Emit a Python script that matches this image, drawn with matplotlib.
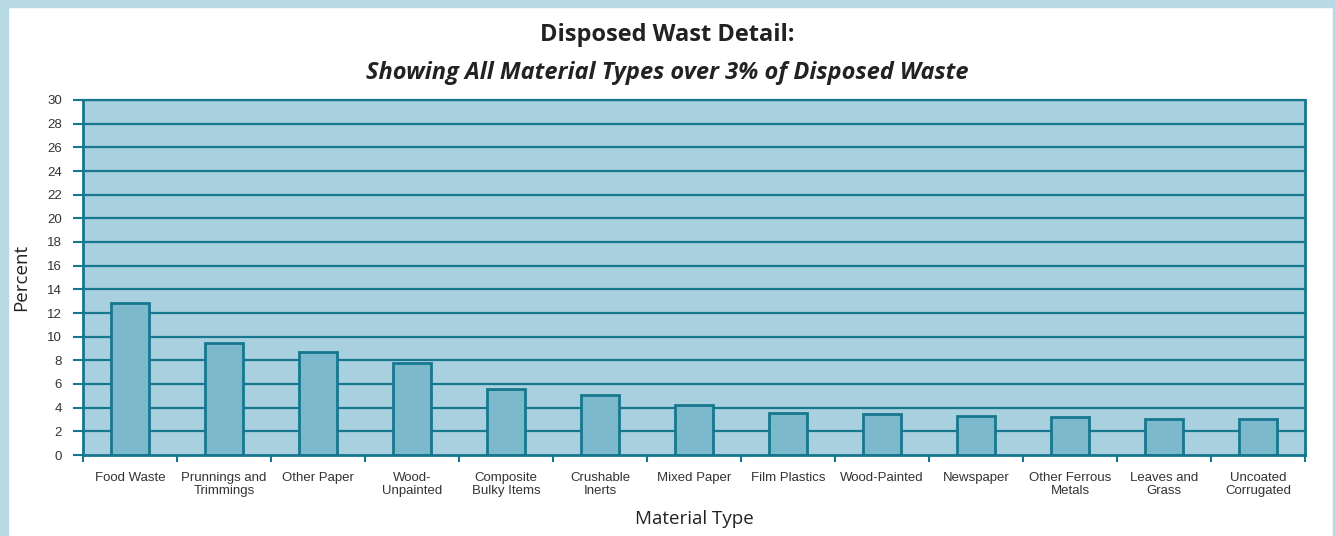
import numpy as np
import matplotlib
matplotlib.use("Agg")
import matplotlib.pyplot as plt
from matplotlib.patches import Rectangle

categories = ["Food Waste", "Prunnings and\nTrimmings", "Other Paper", "Wood-\nUnpainted",
              "Composite\nBulky Items", "Crushable\nInerts", "Mixed Paper", "Film Plastics",
              "Wood-Painted", "Newspaper", "Other Ferrous\nMetals", "Leaves and\nGrass",
              "Uncoated\nCorrugated"]
percent = [12.85, 9.44, 8.74, 7.75, 5.58, 5.07, 4.23, 3.52, 3.44, 3.30, 3.21, 3.07, 3.07]
yticks = list(range(0, 31, 2))

teal = "#16778f"
bar_face = "#7cb9cc"
plot_bg = "#a9d0de"
frame_blue = "#b8dae5"

fig = plt.figure(figsize=(13.35, 5.36), dpi=100)
fig.patch.set_facecolor("white")

# light blue frame strips
W, H = 1335, 536
fig.patches.append(Rectangle((0, 0), 8 / W, 1, transform=fig.transFigure, color=frame_blue, zorder=0))
fig.patches.append(Rectangle((0, 1 - 7 / H), 1, 7 / H, transform=fig.transFigure, color=frame_blue, zorder=0))
fig.patches.append(Rectangle((1 - 2 / W, 0), 2 / W, 1, transform=fig.transFigure, color=frame_blue, zorder=0))

ax = fig.add_axes([83 / W, 1 - 455 / H, (1305 - 83) / W, (455 - 100) / H])
ax.set_facecolor(plot_bg)

x = np.arange(len(categories))
for y in yticks[1:]:
    ax.axhline(y, color=teal, lw=1.6, zorder=1)
ax.bar(x, percent, width=0.4, color=bar_face, edgecolor=teal, linewidth=2, zorder=2)

ax.set_xlim(-0.5, len(categories) - 0.5)
ax.set_ylim(0, 30)
ax.set_yticks(yticks)
ax.set_yticklabels([str(v) for v in yticks], fontsize=9.5, color="#333333", family="Liberation Sans")
ax.set_xticks(x)
ax.set_xticklabels(categories, fontsize=9.5, color="#333333", family="Liberation Sans", linespacing=1.2)
ax.set_xticks(np.arange(-0.5, len(categories), 1), minor=True)
ax.tick_params(axis="x", which="major", length=0, pad=12)
ax.tick_params(axis="x", which="minor", length=5, color=teal, width=1.5)
ax.tick_params(axis="y", length=7, color=teal, width=1.5, pad=8)

for side in ["left", "bottom", "right"]:
    ax.spines[side].set_color(teal)
    ax.spines[side].set_linewidth(2)
ax.spines["top"].set_color(teal)
ax.spines["top"].set_linewidth(1.6)

ax.set_ylabel("Percent", fontsize=13.5, family="Open Sans", color="#222222", labelpad=12)
ax.set_xlabel("Material Type", fontsize=13.5, family="Open Sans", color="#222222", labelpad=9)

fig.text(0.5, 1 - 35 / H, "Disposed Wast Detail:", ha="center", va="center",
         fontsize=17, fontweight="bold", family="Open Sans", color="#222222")
fig.text(0.5, 1 - 73 / H, "Showing All Material Types over 3% of Disposed Waste", ha="center", va="center",
         fontsize=17, fontweight="bold", style="italic", family="Open Sans", color="#222222")

fig.savefig("out.png", dpi=100)
